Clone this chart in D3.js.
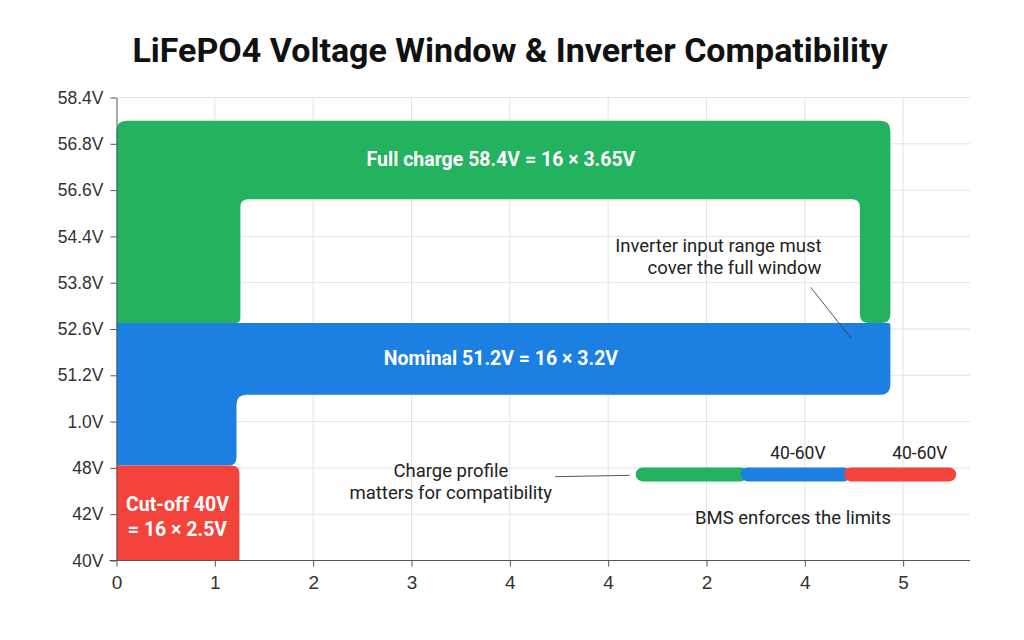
<!DOCTYPE html>
<html><head><meta charset="utf-8">
<script src="https://cdn.jsdelivr.net/npm/d3@7/dist/d3.min.js"></script>
<style>
html,body{margin:0;padding:0;background:#fff;}
svg{display:block;}
</style></head>
<body>
<svg id="chart" width="1024" height="640"></svg>
<script>
// ---- data ----
const title = "LiFePO4 Voltage Window & Inverter Compatibility";
const yLabels = ["58.4V","56.8V","56.6V","54.4V","53.8V","52.6V","51.2V","1.0V","48V","42V","40V"];
const xLabels = ["0","1","2","3","4","4","2","4","5"];
// bands in axis units: [x0, x1, yTop, yBottom, innerX0, innerX1, innerY]
const greenBand = [0, 7.87, 0.5, 4.87, 1.26, 7.56, 2.2];
const blueBand  = [0, 7.87, 4.87, 6.42, 1.22, 7.95];
const redBand   = [0, 1.25, 7.95, 10];
const bandTexts = [
  {lines:["Full charge 58.4V = 16 × 3.65V"], x:3.91, y:1.32},
  {lines:["Nominal 51.2V = 16 × 3.2V"], x:3.91, y:5.62},
  {lines:["Cut-off 40V","= 16 × 2.5V"], x:0.62, y:9.06}
];
const profileSegs = [
  {from:5.28, to:6.42, color:"#23b25e"},
  {from:6.42, to:7.47, color:"#1c7fe2"},
  {from:7.47, to:8.54, color:"#f4433a"}
];
const profileY = 8.14;
const profileLabels = [{t:"40-60V", x:6.93, y:7.67},{t:"40-60V", x:8.17, y:7.67}];
const notes = [
  {lines:["Inverter input range must","cover the full window"], x:7.17, y:3.44, anchor:"end"},
  {lines:["Charge profile","matters for compatibility"], x:3.40, y:8.30, anchor:"middle"},
  {lines:["BMS enforces the limits"], x:6.88, y:9.08, anchor:"middle"}
];
const noteLines = [
  [[7.06,4.1],[7.47,5.2]],
  [[4.46,8.19],[5.22,8.16]]
];

// ---- scales ----
const svg = d3.select("#chart");
const x = d3.scaleLinear().domain([0, 8.68]).range([116.5, 970]);
const y = d3.scaleLinear().domain([0, 10]).range([97.5, 560.5]);

svg.append("text").attr("x", 510).attr("y", 62).attr("text-anchor","middle")
  .attr("font-family","Roboto, 'Liberation Sans', sans-serif").attr("font-weight",700)
  .attr("font-size",34).attr("fill","#111").text(title);

// gridlines
const g = svg.append("g");
g.selectAll("line.h").data(d3.range(yLabels.length)).join("line")
  .attr("x1", x(0)).attr("x2", 970).attr("y1", d=>y(d)).attr("y2", d=>y(d))
  .attr("stroke","#e4e4e4").attr("stroke-width",1);
g.selectAll("line.v").data(d3.range(1, xLabels.length)).join("line")
  .attr("x1", d=>x(d)).attr("x2", d=>x(d)).attr("y1", y(0)).attr("y2", y(10))
  .attr("stroke","#e4e4e4").attr("stroke-width",1);

// rounded polygon path
function roundPoly(pts){
  const n = pts.length; let p = "";
  for(let i=0;i<n;i++){
    const [vx,vy,r] = pts[i];
    const [ax,ay] = pts[(i-1+n)%n], [bx,by] = pts[(i+1)%n];
    const la = Math.hypot(ax-vx, ay-vy), lb = Math.hypot(bx-vx, by-vy);
    const rr = Math.min(r, la/2, lb/2);
    const s = [vx + (ax-vx)/la*rr, vy + (ay-vy)/la*rr];
    const e = [vx + (bx-vx)/lb*rr, vy + (by-vy)/lb*rr];
    p += (i===0 ? "M" : "L") + s[0] + "," + s[1] + "Q" + vx + "," + vy + " " + e[0] + "," + e[1];
  }
  return p + "Z";
}
const gb = greenBand;
svg.append("path").attr("fill","#23b25e").attr("d", roundPoly([
  [x(gb[0]), y(gb[2]), 10], [x(gb[1]), y(gb[2]), 10], [x(gb[1]), y(gb[3]), 9],
  [x(gb[5]), y(gb[3]), 9], [x(gb[5]), y(gb[6]), 8], [x(gb[4]), y(gb[6]), 8],
  [x(gb[4]), y(gb[3]), 5], [x(gb[0]), y(gb[3]), 0]
]));
const bb = blueBand;
svg.append("path").attr("fill","#1c7fe2").attr("d", roundPoly([
  [x(bb[0]), y(bb[2]), 0], [x(bb[1]), y(bb[2]), 2], [x(bb[1]), y(bb[3]), 10],
  [x(bb[4]), y(bb[3]), 10], [x(bb[4]), y(bb[5]), 8], [x(bb[0]), y(bb[5]), 0]
]));
const rb = redBand;
svg.append("path").attr("fill","#f4433a").attr("d", roundPoly([
  [x(rb[0]), y(rb[2]), 0], [x(rb[1]), y(rb[2]), 8], [x(rb[1]), y(rb[3]), 0], [x(rb[0]), y(rb[3]), 0]
]));

// band texts
bandTexts.forEach(bt=>{
  const t = svg.append("text").attr("text-anchor","middle")
    .attr("font-family","Roboto, 'Liberation Sans', sans-serif").attr("font-weight",700)
    .attr("font-size",19.5).attr("fill","#fff");
  const n = bt.lines.length;
  bt.lines.forEach((l,i)=>{
    t.append("tspan").attr("x", x(bt.x)).attr("y", y(bt.y) + (i-(n-1)/2)*25 + 7).text(l);
  });
});

// axes
const yAxis = svg.append("g").attr("transform",`translate(${x(0)},0)`)
  .call(d3.axisLeft(y).tickValues(d3.range(yLabels.length)).tickFormat(i=>yLabels[i]).tickSize(6).tickSizeOuter(0));
yAxis.select(".domain").attr("stroke","#555");
yAxis.selectAll(".tick line").attr("stroke","#555");
yAxis.selectAll("text").attr("font-family","'Liberation Sans', Arial, sans-serif").attr("font-size",17.5).attr("fill","#333").attr("dx","-4");

const xAxis = svg.append("g").attr("transform",`translate(0,${y(10)})`)
  .call(d3.axisBottom(x).tickValues(d3.range(xLabels.length)).tickFormat(i=>xLabels[i]).tickSize(6).tickSizeOuter(0));
xAxis.select(".domain").attr("d", `M${x(0)-7},0H970`).attr("stroke","#555");
xAxis.selectAll(".tick line").attr("stroke","#555");
xAxis.selectAll("text").attr("font-family","'Liberation Sans Narrow', 'Liberation Sans', sans-serif").attr("font-size",19).attr("fill","#333").attr("dy","1.0em");

// profile bar
const pg = svg.append("g");
const capW = 14;
pg.selectAll("rect").data(profileSegs).join("rect")
  .attr("x", (d,i)=> x(d.from) - (i===0?0:capW/2))
  .attr("width", (d,i)=> x(d.to) - x(d.from) + (i===0?0:capW/2))
  .attr("y", y(profileY) - capW/2).attr("height", capW)
  .attr("rx", capW/2).attr("fill", d=>d.color);

svg.selectAll("text.pl").data(profileLabels).join("text").attr("class","pl")
  .attr("x", d=>x(d.x)).attr("y", d=>y(d.y)+6).attr("text-anchor","middle")
  .attr("font-family","Roboto, 'Liberation Sans', sans-serif").attr("font-size",17.5).attr("fill","#222").text(d=>d.t);

// notes
noteLines.forEach(l=>{
  svg.append("line").attr("x1",x(l[0][0])).attr("y1",y(l[0][1])).attr("x2",x(l[1][0])).attr("y2",y(l[1][1]))
    .attr("stroke","#444").attr("stroke-width",0.9);
});
notes.forEach(nt=>{
  const t = svg.append("text").attr("text-anchor", nt.anchor)
    .attr("font-family","Roboto, 'Liberation Sans', sans-serif").attr("font-size",18.5).attr("fill","#222");
  const n = nt.lines.length;
  nt.lines.forEach((l,i)=>{
    t.append("tspan").attr("x", x(nt.x)).attr("y", y(nt.y) + (i-(n-1)/2)*22 + 6).text(l);
  });
});
</script>
</body></html>
